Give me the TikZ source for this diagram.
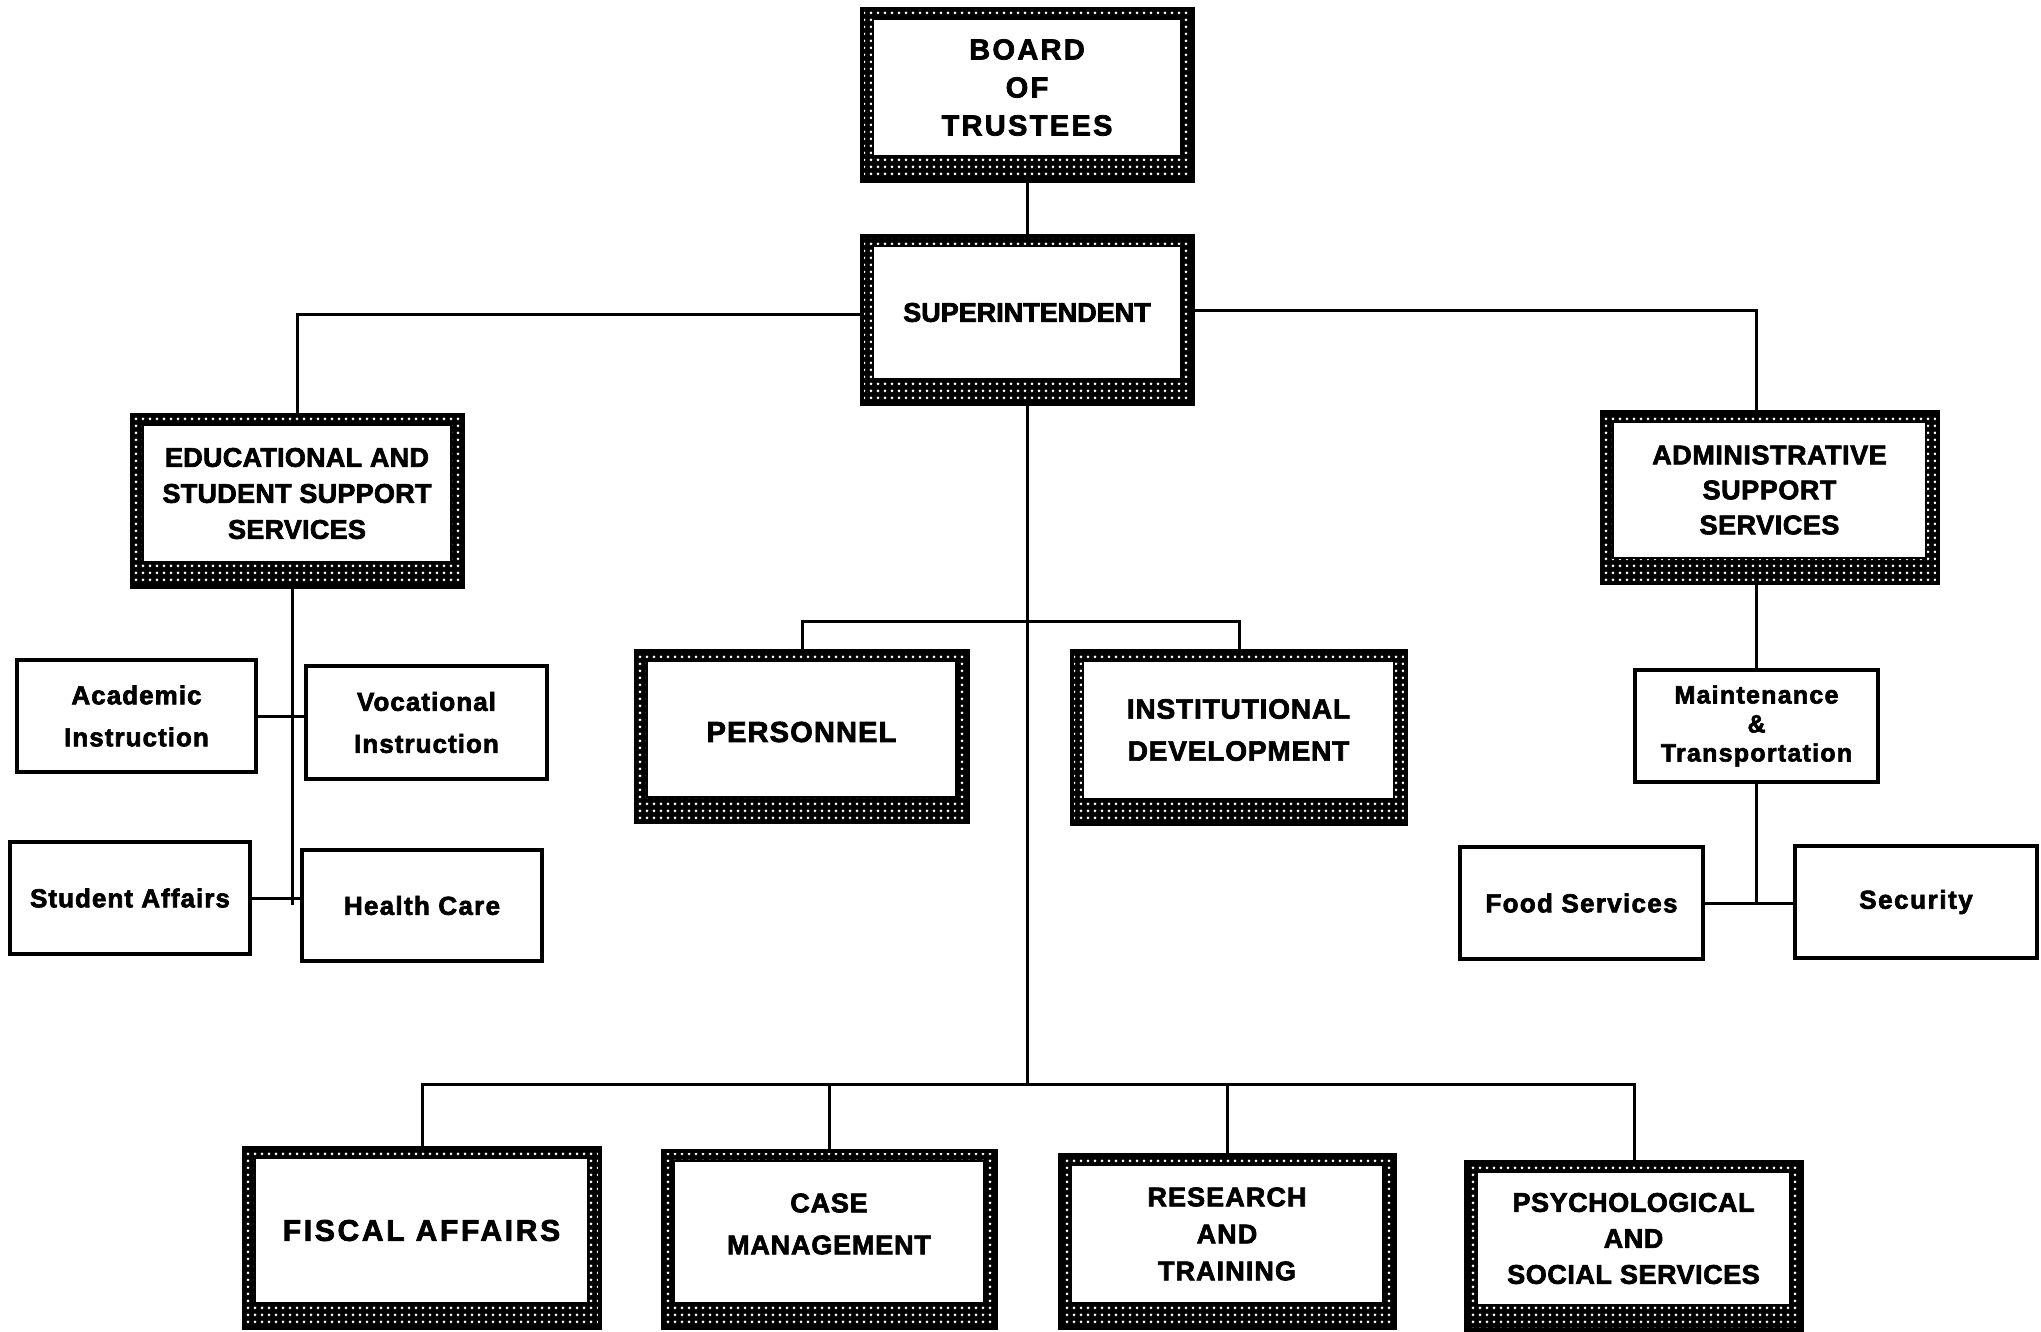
\documentclass[tikz,border=0pt]{standalone}
\usepackage{fontspec}
\setmainfont{Liberation Sans}
\usetikzlibrary{patterns,fit,calc}
\pgfdeclarepatternformonly{wdots}{\pgfpointorigin}{\pgfpoint{7pt}{7pt}}{\pgfpoint{7pt}{7pt}}{%
  \pgfpathcircle{\pgfpoint{3.5pt}{3.5pt}}{1.7pt}\pgfusepath{fill}}
\tikzset{
  sframe/.style={draw=black, line width=4pt, preaction={fill=black}, pattern=wdots, pattern color=white, inner sep=0pt},
  innerrect/.style={draw=black, line width=2pt, fill=white},
  pbox/.style={draw=black, line width=3.5pt, fill=white, inner sep=0pt},
  btext/.style={inner sep=0pt, align=center},
  conn/.style={draw=black, line width=3pt},
}
\newcommand{\fsz}[3]{\bfseries\fontsize{#1}{#2}\selectfont\addfontfeatures{LetterSpace=#3,FakeBold=2.5}}
\newcommand{\orgshaded}[8][0pt]{%
  \node[sframe, fit={(#3,#4) (#5,#6)}] (#2) {};
  \coordinate (#2-a) at ([xshift=13pt,yshift=-12pt]#2.north west);
  \coordinate (#2-b) at ([xshift=-14pt,yshift=27pt]#2.south east);
  \draw[innerrect] (#2-a) rectangle (#2-b);
  \node[btext, font={#7}, yshift=#1] (#2-t) at ($(#2-a)!0.5!(#2-b)$) {#8};
}
\newcommand{\orgplain}[7]{%
  \node[pbox, fit={(#2,#3) (#4,#5)}] (#1) {};
  \node[btext, font={#6}] (#1-t) at (#1.center) {#7};
}
\begin{document}
\begin{tikzpicture}[x=1pt,y=-1pt]
\useasboundingbox[fill=white] (0,0) rectangle (2041,1332);

% shaded boxes
\orgshaded{board}{862}{9}{1193}{181}{\fsz{29}{38}{8}}{BOARD\\OF\\TRUSTEES}
\orgshaded{super}{862}{236}{1193}{404}{\fsz{27}{36}{0}}{SUPERINTENDENT}
\orgshaded{edu}{132}{415}{463}{587}{\fsz{27}{36}{1}}{EDUCATIONAL AND\\STUDENT SUPPORT\\SERVICES}
\orgshaded{admin}{1602}{412}{1938}{583}{\fsz{27}{35}{2}}{ADMINISTRATIVE\\SUPPORT\\SERVICES}
\orgshaded[-3pt]{pers}{636}{651}{968}{822}{\fsz{29}{40}{4}}{PERSONNEL}
\orgshaded{inst}{1072}{651}{1406}{824}{\fsz{28}{42}{3}}{INSTITUTIONAL\\DEVELOPMENT}
\orgshaded{fiscal}{244}{1148}{600}{1328}{\fsz{30}{40}{9}}{FISCAL AFFAIRS}
\orgshaded[8pt]{case}{663}{1151}{996}{1328}{\fsz{27}{42}{3}}{CASE\\MANAGEMENT}
\orgshaded{research}{1060}{1155}{1395}{1328}{\fsz{27}{37}{4}}{RESEARCH\\AND\\TRAINING}
\orgshaded{psych}{1466}{1162}{1802}{1330}{\fsz{27}{36}{2}}{PSYCHOLOGICAL\\AND\\SOCIAL SERVICES}

% plain boxes
\orgplain{acad}{17}{660}{256}{772}{\fsz{26}{42}{4}}{Academic\\Instruction}
\orgplain{voc}{306}{666}{547}{779}{\fsz{26}{42}{4}}{Vocational\\Instruction}
\orgplain{stud}{10}{842}{250}{954}{\fsz{26}{30}{4}}{Student Affairs}
\orgplain{health}{302}{850}{542}{961}{\fsz{26}{30}{5}}{Health Care}
\orgplain{maint}{1635}{670}{1878}{782}{\fsz{25}{29}{5}}{Maintenance\\\&\\Transportation}
\orgplain{food}{1460}{847}{1703}{959}{\fsz{26}{30}{5}}{Food Services}
\orgplain{secur}{1795}{846}{2037}{958}{\fsz{26}{30}{6}}{Security}

% connectors
\draw[conn] (board.south) -- (super.north);
\draw[conn] ([yshift=6pt]super.west) -| (edu.north);
\draw[conn] ([yshift=10pt]super.east) -| (maint.north |- admin.north);
\coordinate (bbus) at (super.south |- 0,1084);
\coordinate (pbus) at (super.south |- 0,621);
\draw[conn] (super.south) -- (bbus);
\draw[conn] (pers.north) |- (pbus) -| (inst.north);
\draw[conn] (fiscal.north) |- (bbus) -| (psych.north);
\draw[conn] (case.north) -- (case.north |- bbus);
\draw[conn] (research.north) -- (research.north |- bbus);

\coordinate (etr) at (292,905);
\draw[conn] (edu.south -| etr) -- (etr);
\draw[conn] (acad.east) -- (acad.east -| voc.west);
\draw[conn] (stud.east) -- (stud.east -| health.west);

\draw[conn] (maint.north |- admin.south) -- (maint.north);
\draw[conn] (maint.south) -- (maint.south |- food.east);
\draw[conn] (food.east) -- (food.east -| secur.west);
\end{tikzpicture}
\end{document}
